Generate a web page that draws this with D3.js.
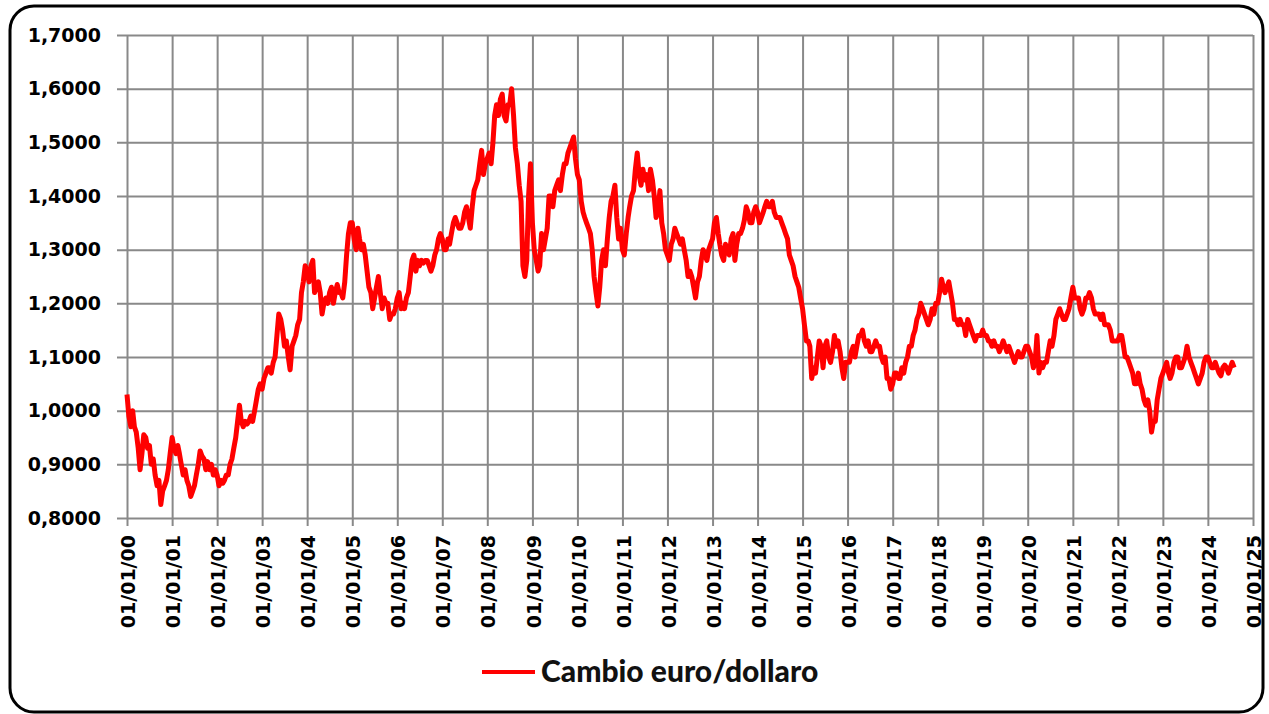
<!DOCTYPE html>
<html>
<head>
<meta charset="utf-8">
<script src="https://cdn.jsdelivr.net/npm/d3@7"></script>
<style>
  body { margin: 0; background: #fff; }
  .grid line, .grid path { stroke: #898989; stroke-width: 2; }
  .axis text { font-family: "DejaVu Sans", sans-serif; font-weight: bold; font-size: 19px; fill: #000; }
</style>
</head>
<body>
<script>

// half-monthly readings of the euro/dollar exchange rate (1st and 16th of each month)
var eur2000 = [1.03, 0.99, 0.97, 1.00, 0.97, 0.96, 0.93, 0.89, 0.92, 0.955, 0.95, 0.93, 0.935, 0.90, 0.91, 0.88, 0.86, 0.87, 0.825, 0.85, 0.86, 0.87, 0.89, 0.92];
var eur2001 = [0.95, 0.93, 0.92, 0.935, 0.92, 0.90, 0.88, 0.89, 0.87, 0.86, 0.84, 0.85, 0.86, 0.88, 0.90, 0.925, 0.915, 0.91, 0.89, 0.905, 0.89, 0.90, 0.88, 0.89];
var eur2002 = [0.88, 0.86, 0.87, 0.865, 0.87, 0.88, 0.88, 0.90, 0.91, 0.93, 0.95, 0.98, 1.01, 0.98, 0.97, 0.98, 0.975, 0.98, 0.99, 0.98, 1.00, 1.02, 1.04, 1.05];
var eur2003 = [1.04, 1.06, 1.07, 1.08, 1.08, 1.07, 1.09, 1.10, 1.14, 1.18, 1.17, 1.15, 1.12, 1.13, 1.10, 1.076, 1.12, 1.13, 1.14, 1.16, 1.17, 1.22, 1.24, 1.27];
var eur2004 = [1.26, 1.24, 1.27, 1.28, 1.22, 1.23, 1.24, 1.22, 1.18, 1.20, 1.21, 1.20, 1.22, 1.23, 1.20, 1.22, 1.235, 1.22, 1.22, 1.21, 1.24, 1.29, 1.33, 1.35];
var eur2005 = [1.35, 1.32, 1.30, 1.34, 1.32, 1.30, 1.31, 1.29, 1.26, 1.23, 1.22, 1.19, 1.21, 1.23, 1.25, 1.22, 1.19, 1.21, 1.20, 1.20, 1.17, 1.18, 1.18, 1.19];
var eur2006 = [1.21, 1.22, 1.19, 1.20, 1.19, 1.21, 1.22, 1.25, 1.28, 1.29, 1.26, 1.28, 1.27, 1.28, 1.275, 1.28, 1.28, 1.27, 1.26, 1.27, 1.29, 1.30, 1.32, 1.33];
var eur2007 = [1.32, 1.30, 1.30, 1.32, 1.31, 1.33, 1.35, 1.36, 1.35, 1.34, 1.34, 1.35, 1.37, 1.38, 1.36, 1.34, 1.38, 1.41, 1.42, 1.43, 1.46, 1.485, 1.44, 1.46];
var eur2008 = [1.47, 1.48, 1.46, 1.50, 1.55, 1.57, 1.55, 1.58, 1.59, 1.55, 1.54, 1.57, 1.57, 1.60, 1.55, 1.49, 1.46, 1.42, 1.39, 1.27, 1.25, 1.28, 1.40, 1.46];
var eur2009 = [1.35, 1.30, 1.28, 1.26, 1.27, 1.33, 1.30, 1.32, 1.34, 1.40, 1.40, 1.38, 1.41, 1.42, 1.43, 1.41, 1.44, 1.46, 1.46, 1.48, 1.49, 1.50, 1.51, 1.47];
var eur2010 = [1.44, 1.43, 1.39, 1.37, 1.36, 1.35, 1.34, 1.33, 1.30, 1.25, 1.22, 1.195, 1.23, 1.28, 1.30, 1.27, 1.32, 1.36, 1.39, 1.40, 1.42, 1.36, 1.32, 1.34];
var eur2011 = [1.30, 1.29, 1.33, 1.36, 1.38, 1.40, 1.41, 1.45, 1.48, 1.44, 1.42, 1.45, 1.43, 1.44, 1.41, 1.45, 1.43, 1.40, 1.36, 1.37, 1.41, 1.35, 1.33, 1.30];
var eur2012 = [1.29, 1.28, 1.31, 1.32, 1.34, 1.33, 1.32, 1.31, 1.32, 1.30, 1.28, 1.25, 1.26, 1.25, 1.23, 1.21, 1.24, 1.25, 1.28, 1.30, 1.29, 1.28, 1.30, 1.31];
var eur2013 = [1.32, 1.35, 1.36, 1.33, 1.31, 1.29, 1.28, 1.31, 1.30, 1.29, 1.32, 1.33, 1.28, 1.31, 1.33, 1.33, 1.34, 1.355, 1.38, 1.37, 1.35, 1.35, 1.37, 1.38];
var eur2014 = [1.37, 1.35, 1.36, 1.37, 1.38, 1.39, 1.38, 1.38, 1.39, 1.37, 1.36, 1.36, 1.36, 1.35, 1.34, 1.33, 1.32, 1.29, 1.28, 1.27, 1.25, 1.24, 1.23, 1.21];
var eur2015 = [1.19, 1.16, 1.13, 1.13, 1.12, 1.06, 1.08, 1.07, 1.10, 1.13, 1.12, 1.08, 1.12, 1.13, 1.10, 1.09, 1.11, 1.14, 1.12, 1.13, 1.11, 1.08, 1.06, 1.09];
var eur2016 = [1.09, 1.09, 1.11, 1.12, 1.10, 1.12, 1.14, 1.14, 1.15, 1.13, 1.12, 1.13, 1.11, 1.11, 1.12, 1.13, 1.12, 1.12, 1.10, 1.09, 1.10, 1.06, 1.06, 1.04];
var eur2017 = [1.05, 1.07, 1.07, 1.06, 1.06, 1.08, 1.07, 1.09, 1.10, 1.12, 1.12, 1.14, 1.15, 1.17, 1.18, 1.20, 1.19, 1.18, 1.17, 1.16, 1.17, 1.19, 1.18, 1.20];
var eur2018 = [1.20, 1.22, 1.245, 1.23, 1.22, 1.23, 1.24, 1.22, 1.20, 1.17, 1.17, 1.16, 1.17, 1.16, 1.16, 1.14, 1.17, 1.16, 1.15, 1.14, 1.13, 1.14, 1.14, 1.14];
var eur2019 = [1.15, 1.14, 1.14, 1.13, 1.13, 1.12, 1.13, 1.12, 1.12, 1.11, 1.12, 1.13, 1.12, 1.11, 1.12, 1.11, 1.10, 1.09, 1.10, 1.11, 1.10, 1.10, 1.11, 1.12];
var eur2020 = [1.12, 1.11, 1.10, 1.08, 1.09, 1.14, 1.07, 1.09, 1.08, 1.09, 1.09, 1.11, 1.13, 1.12, 1.14, 1.17, 1.18, 1.19, 1.18, 1.17, 1.17, 1.18, 1.19, 1.21];
var eur2021 = [1.23, 1.21, 1.21, 1.21, 1.19, 1.18, 1.19, 1.21, 1.21, 1.22, 1.21, 1.19, 1.18, 1.18, 1.18, 1.17, 1.18, 1.16, 1.16, 1.16, 1.15, 1.13, 1.13, 1.13];
var eur2022 = [1.13, 1.14, 1.14, 1.12, 1.10, 1.10, 1.09, 1.08, 1.07, 1.05, 1.05, 1.07, 1.05, 1.04, 1.02, 1.01, 1.02, 1.00, 0.96, 0.98, 0.98, 1.02, 1.04, 1.06];
var eur2023 = [1.07, 1.08, 1.09, 1.07, 1.06, 1.07, 1.09, 1.10, 1.10, 1.08, 1.08, 1.09, 1.10, 1.12, 1.10, 1.09, 1.08, 1.07, 1.06, 1.05, 1.06, 1.07, 1.09, 1.10];
var eur2024 = [1.10, 1.09, 1.08, 1.08, 1.09, 1.08, 1.07, 1.065, 1.08, 1.085, 1.08, 1.07, 1.08, 1.09, 1.08];

var startYear = 2000;
var yearSeries = [eur2000, eur2001, eur2002, eur2003, eur2004, eur2005, eur2006, eur2007, eur2008,
                  eur2009, eur2010, eur2011, eur2012, eur2013, eur2014, eur2015, eur2016, eur2017,
                  eur2018, eur2019, eur2020, eur2021, eur2022, eur2023, eur2024];

// tick values
var yTicks = [0.8, 0.9, 1.0, 1.1, 1.2, 1.3, 1.4, 1.5, 1.6, 1.7];
var xTickYears = d3.range(2000, 2026);
var seriesName = "Cambio euro/dollaro";

// turn the year arrays into dated points
var dataset = [];
yearSeries.forEach(function(values, k) {
  values.forEach(function(v, i) {
    dataset.push({date: new Date(startYear + k, Math.floor(i / 2), i % 2 ? 16 : 1), value: v});
  });
});

// set dimensions
var width = 1269, height = 714;
var margin = {top: 35, right: 16, bottom: 196, left: 127};
var w = width - margin.left - margin.right,
    h = height - margin.top - margin.bottom;

var svg = d3.select("body")
            .append("svg")
            .attr("width", width)
            .attr("height", height);

// rounded outer frame
svg.append("rect")
   .attr("x", 10)
   .attr("y", 6)
   .attr("width", 1253)
   .attr("height", 706)
   .attr("rx", 24)
   .attr("fill", "#fff")
   .attr("stroke", "#000")
   .attr("stroke-width", 3);

var g = svg.append("g")
           .attr("transform", "translate(" + margin.left + "," + margin.top + ")");

// scales
var xScale = d3.scaleTime()
               .domain([new Date(2000, 0, 1), new Date(2025, 0, 1)])
               .range([0, w]);

var yScale = d3.scaleLinear()
               .domain([0.8, 1.7])
               .range([h, 0]);

var itLocale = d3.formatLocale({decimal: ",", thousands: ".", grouping: [3], currency: ["", "€"]});
var yFormat = itLocale.format(".4f");
var xFormat = d3.timeFormat("%d/%m/%y");

// horizontal grid + y labels
var yAxis = d3.axisLeft(yScale)
              .tickValues(yTicks)
              .tickSize(-(w + 10))
              .tickPadding(16)
              .tickFormat(yFormat);

g.append("g")
 .attr("class", "grid axis")
 .attr("transform", "translate(" + (-10) + ",0)")
 .call(yAxis)
 .call(function(sel) { sel.select(".domain").remove(); })
 .selectAll("line")
   .attr("x1", 0);

// vertical grid + x labels
var xAxis = d3.axisBottom(xScale)
              .tickValues(xTickYears.map(function(y) { return new Date(y, 0, 1); }))
              .tickSize(-(h + 8))
              .tickFormat(xFormat);

var xg = g.append("g")
          .attr("class", "grid axis")
          .attr("transform", "translate(0," + (h + 8) + ")")
          .call(xAxis);
xg.select(".domain").remove();

xg.selectAll("text")
  .attr("transform", "rotate(-90)")
  .attr("x", -9)
  .attr("y", 1)
  .attr("dy", "0.35em")
  .style("text-anchor", "end");

// the exchange rate line
var line = d3.line()
             .x(function(d) { return xScale(d.date); })
             .y(function(d) { return yScale(d.value); });

g.append("path")
 .datum(dataset)
 .attr("fill", "none")
 .attr("stroke", "#ff0000")
 .attr("stroke-width", 5)
 .attr("stroke-linejoin", "round")
 .attr("d", line);

// legend
var legend = svg.append("g")
                .attr("transform", "translate(482,672)");

legend.append("line")
      .attr("x1", 0)
      .attr("x2", 53)
      .attr("stroke", "#ff0000")
      .attr("stroke-width", 4);

legend.append("text")
      .attr("x", 59)
      .attr("y", 10)
      .style("font-family", "Lato, sans-serif")
      .style("font-weight", "900")
      .style("font-size", "30px")
      .style("fill", "#111")
      .text(seriesName);

</script>
</body>
</html>
